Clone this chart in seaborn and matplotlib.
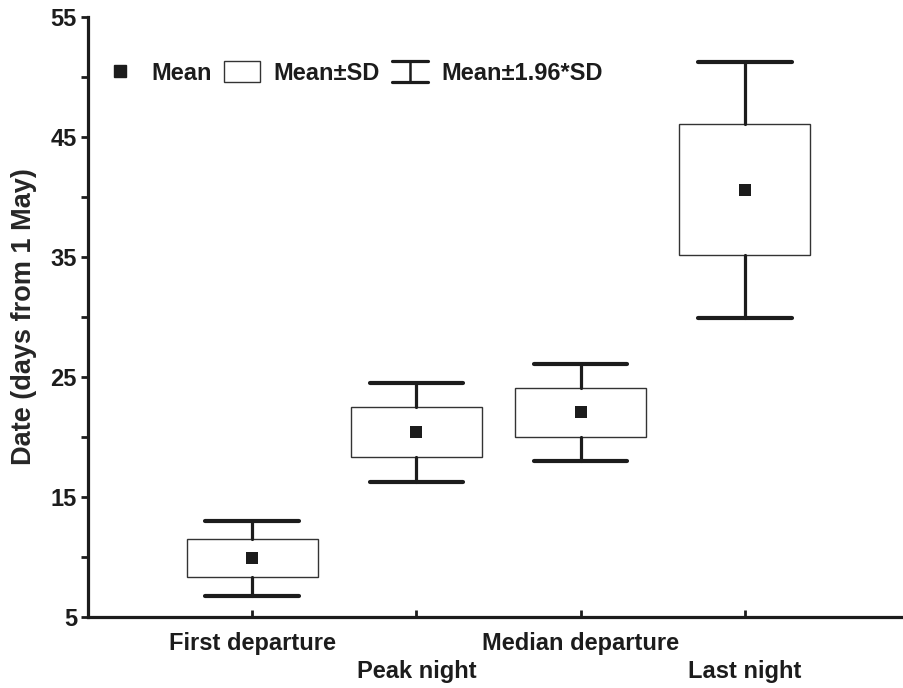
import matplotlib
matplotlib.use("Agg")
import matplotlib.pyplot as plt
from matplotlib.lines import Line2D
from matplotlib.patches import Patch
from matplotlib.legend_handler import HandlerBase
import seaborn as sns
import pandas as pd

# Departure timing summary (days from 1 May)
categories = ["First departure", "Peak night", "Median departure", "Last night"]
means = [9.9, 20.4, 22.05, 40.6]
sds = [1.6, 2.1, 2.05, 5.45]
y_ticks = [5, 15, 25, 35, 45, 55]
y_minor = [10, 20, 30, 40, 50]

INK = "#1c1c1c"

sns.set_style("ticks")
plt.rcParams["font.family"] = ["Liberation Sans", "DejaVu Sans"]
plt.rcParams["font.weight"] = "bold"
plt.rcParams["text.color"] = INK
plt.rcParams["xtick.color"] = INK
plt.rcParams["ytick.color"] = INK

fig = plt.figure(figsize=(9.04, 6.88), dpi=100)
ax = fig.add_axes([88 / 904, 71 / 688, 1 - 88 / 904, 600 / 688])

positions = list(range(len(categories)))

# Boxes: mean +/- SD, whiskers: mean +/- 1.96*SD
stats = []
for c, m, s in zip(categories, means, sds):
    stats.append(dict(label=c, med=m, q1=m - s, q3=m + s,
                      whislo=m - 1.96 * s, whishi=m + 1.96 * s, fliers=[]))

ax.bxp(stats, positions=positions, widths=0.8, capwidths=0.57,
       showfliers=False, patch_artist=True,
       boxprops=dict(facecolor="white", edgecolor="#333333", linewidth=1.0),
       whiskerprops=dict(color=INK, linewidth=2.3),
       capprops=dict(color=INK, linewidth=3.0, solid_capstyle="round"),
       medianprops=dict(linewidth=0, alpha=0))

df = pd.DataFrame({"pos": positions, "mean": means})
sns.scatterplot(data=df, x="pos", y="mean", marker="s", s=78, color=INK,
                edgecolor=INK, linewidth=0, zorder=4, ax=ax)

ax.set_xlim(-1.0, 3.97)
ax.set_ylim(5, 55)
ax.set_yticks(y_ticks)
ax.set_yticks(y_minor, minor=True)
ax.tick_params(axis="y", which="both", direction="out", length=5, width=2,
               labelsize=17, pad=3)

# staggered category labels
ax.set_xticks(positions[0::2], categories[0::2])
ax.set_xticks(positions[1::2], categories[1::2], minor=True)
ax.tick_params(axis="x", which="both", direction="in", length=5, width=2,
               labelsize=17)
ax.tick_params(axis="x", which="major", pad=11)
ax.tick_params(axis="x", which="minor", pad=31)

ax.set_xlabel("")
ax.set_ylabel("Date (days from 1 May)", fontsize=19.5, fontweight="bold",
              labelpad=10)

for side in ["top", "right"]:
    ax.spines[side].set_visible(False)
for side in ["left", "bottom"]:
    ax.spines[side].set_linewidth(2.3)
    ax.spines[side].set_color(INK)


class IBeamHandler(HandlerBase):
    """Legend key drawn as an error bar with caps."""

    def create_artists(self, legend, orig_handle, xdescent, ydescent,
                       width, height, fontsize, trans):
        x0, y0 = -xdescent, -ydescent
        cx = x0 + width / 2
        stem = Line2D([cx, cx], [y0, y0 + height], lw=1.8, color=INK,
                      transform=trans)
        top = Line2D([x0, x0 + width], [y0 + height] * 2, lw=2.3,
                     color=INK, transform=trans)
        bot = Line2D([x0, x0 + width], [y0] * 2, lw=2.3, color=INK,
                     transform=trans)
        return [stem, top, bot]


mean_handle = Line2D([], [], marker="s", ls="", color=INK, markersize=8.5)
box_handle = Patch(facecolor="white", edgecolor="#333333", linewidth=1.0)
whisker_handle = object()

ax.legend([mean_handle, box_handle, whisker_handle],
          ["Mean", "Mean\u00b1SD", "Mean\u00b11.96*SD"],
          handler_map={whisker_handle: IBeamHandler()},
          loc="center left", bbox_to_anchor=(102 / 904, 1 - 73 / 688),
          bbox_transform=fig.transFigure, ncol=3, frameon=False,
          fontsize=17, handlelength=1.55, handleheight=1.0,
          handletextpad=0.55, columnspacing=0.5, borderpad=0,
          borderaxespad=0)

fig.savefig("out.png", dpi=100)
